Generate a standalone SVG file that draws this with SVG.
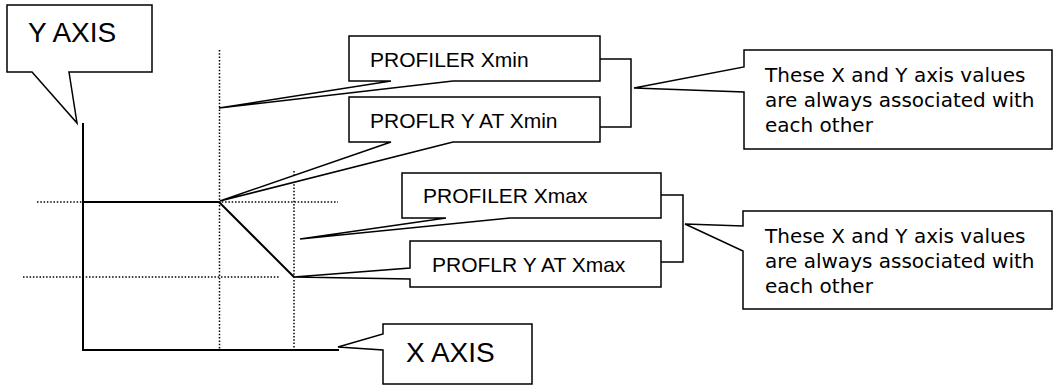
<svg xmlns="http://www.w3.org/2000/svg" width="1053" height="385" viewBox="0 0 1053 385">
<style>
.box{fill:#fff;stroke:#000;stroke-width:1.5;stroke-linejoin:miter}
.solid{fill:none;stroke:#000;stroke-width:2}
.thin{fill:none;stroke:#000;stroke-width:1.5}
.dot{fill:none;stroke:#000;stroke-width:1.5;stroke-dasharray:1.5 1.8}
.lbl{font-family:"Liberation Sans",Arial,sans-serif;font-size:21px;fill:#000}
.big{font-family:"Liberation Sans",Arial,sans-serif;font-size:28px;fill:#000}
.note{font-family:"DejaVu Sans",Verdana,sans-serif;font-size:20px;fill:#000}
</style>
<rect width="1053" height="385" fill="#fff"/>
<g id="guides">
<line class="dot" x1="219.5" y1="50" x2="219.5" y2="350"/>
<line class="dot" x1="294" y1="171" x2="294" y2="350"/>
<line class="dot" x1="37" y1="202" x2="338" y2="202"/>
<line class="dot" x1="23" y1="277" x2="279" y2="277"/>
</g>
<g id="axes">
<polyline class="solid" points="83,123 83,350 339,350"/>
<polyline class="solid" points="83,202 219,202 294,277"/>
</g>
<g id="connectors">
<polyline class="thin" points="600,59 631,59 631,127 600,127"/>
<polyline class="thin" points="661,195 683,195 683,262 661,262"/>
</g>
<g id="y-axis-label">
<path class="box" d="M7,5 H152 V72 H69 L77,123 L32,72 H7 Z"/>
<text class="big" x="28" y="42">Y AXIS</text>
</g>
<g id="x-axis-label">
<path class="box" d="M383,324 H532 V384 H383 V350 L338,347 L383,334 Z"/>
<text class="big" x="406" y="362">X AXIS</text>
</g>
<g id="profiler-xmin">
<path class="box" d="M349,36 H600 V81 H453 L219,108 L391,81 H349 Z"/>
<text class="lbl" x="370" y="67">PROFILER Xmin</text>
</g>
<g id="proflr-y-at-xmin">
<path class="box" d="M349,97 H600 V142 H453 L220,201 L391,142 H349 Z"/>
<text class="lbl" x="370" y="128">PROFLR Y AT Xmin</text>
</g>
<g id="profiler-xmax">
<path class="box" d="M402,173 H661 V218 H510 L300,239 L446,218 H402 Z"/>
<text class="lbl" x="423" y="203">PROFILER Xmax</text>
</g>
<g id="proflr-y-at-xmax">
<path class="box" d="M410,241 H661 V287 H410 V279 L294,277 L410,268 Z"/>
<text class="lbl" x="432" y="272">PROFLR Y AT Xmax</text>
</g>
<g id="note-min">
<path class="box" d="M744,50 H1052 V149 H744 V92 L634,88 L744,67 Z"/>
<text class="note" x="765" y="82">These X and Y axis values</text>
<text class="note" x="765" y="107">are always associated with</text>
<text class="note" x="765" y="132">each other</text>
</g>
<g id="note-max">
<path class="box" d="M743,211 H1052 V309 H743 V251 L685,224 L743,226 Z"/>
<text class="note" x="765" y="243">These X and Y axis values</text>
<text class="note" x="765" y="268">are always associated with</text>
<text class="note" x="765" y="293">each other</text>
</g>
</svg>
